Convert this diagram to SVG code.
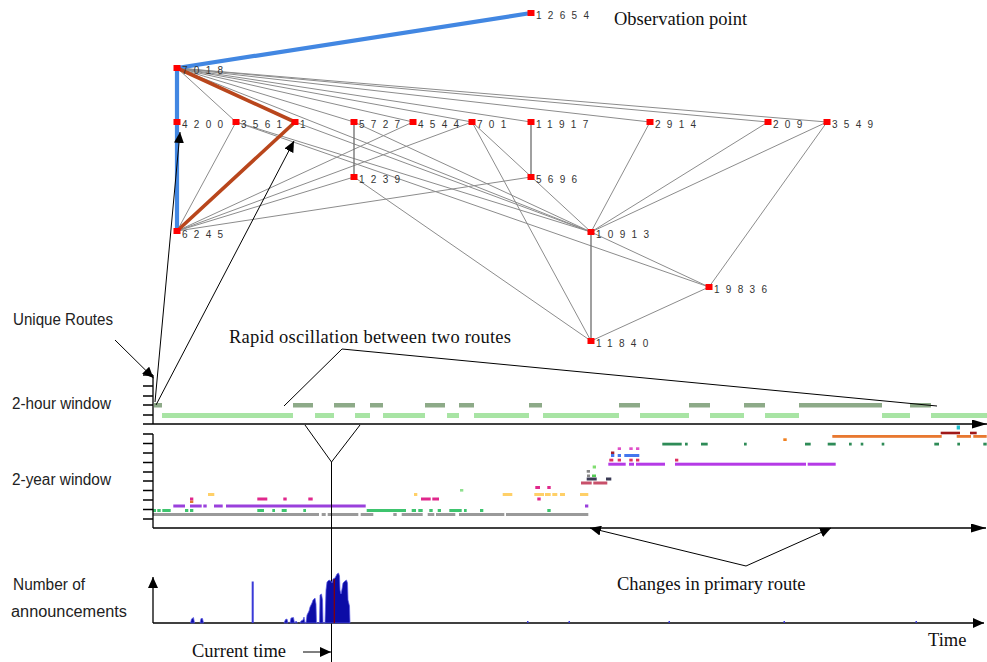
<svg xmlns="http://www.w3.org/2000/svg" width="987" height="662" viewBox="0 0 987 662">
<style>
.e{stroke:#8c8c8c;stroke-width:1;fill:none}
.ev{stroke:#6e6e6e;stroke-width:1.3;fill:none}
.nd{fill:#ff0000}
.lb{font-family:"Liberation Sans",Arial,sans-serif;font-size:10px;fill:#333;letter-spacing:6.3px}
.sans{font-family:"Liberation Sans",Arial,sans-serif;font-size:16px;fill:#222}
.serif{font-family:"Liberation Serif","Times New Roman",serif;font-size:18.5px;fill:#111}
.ann{stroke:#000;stroke-width:1;fill:none}
.ax{stroke:#000;stroke-width:1.3;fill:none}
.dg{fill:#8daa88}
.lg{fill:#a8e4a4}
</style>
<defs>
<marker id="ah" markerUnits="userSpaceOnUse" markerWidth="12" markerHeight="10" refX="11" refY="5" orient="auto"><path d="M0,0 L11,5 L0,10 Z" fill="#000"/></marker>
<marker id="axa" markerUnits="userSpaceOnUse" markerWidth="16" markerHeight="10" refX="15" refY="4.5" orient="auto"><path d="M0,0 L15,4.5 L0,9 Z" fill="#000"/></marker>
</defs>
<rect width="987" height="662" fill="#fff"/>

<g id="edges">
<path class="e" d="M177,68 L236,122 M177,68 L354,122 M177,68 L413,122 M177,68 L472,122 M177,68 L531,122 M177,68 L650,122 M177,68 L768,122 M177,68 L827,122 M177,68 L591,232
M236,122 L591,232 M236,122 L709,287 M295,122 L591,232 M354,122 L591,232
M472,122 L591,232 M472,122 L591,341 M354,177 L591,341
M177,231 L236,122 M177,231 L413,122 M177,231 L472,122 M177,231 L354,177 M177,231 L531,177
M650,122 L591,232 M768,122 L591,232 M827,122 L591,232 M827,122 L709,287 M591,232 L709,287 M591,341 L709,287"/>
<path class="ev" d="M354,122 V177 M531,122 V177 M591,232 V341"/>
<path d="M531,13 L177,68 L177,231" stroke="#4287e2" stroke-width="4.2" fill="none" stroke-linejoin="round"/>
<path d="M177,68 L295,122 L177,231" stroke="#b9461c" stroke-width="3.6" fill="none" stroke-linejoin="round"/>
</g>

<g id="n12654"><rect class="nd" x="527.5" y="10" width="7" height="6"/><text class="lb" x="536" y="19">12654</text></g>
<g id="n7018"><rect class="nd" x="173.5" y="65" width="7" height="6"/><text class="lb" x="182" y="74">7018</text></g>
<g id="n4200"><rect class="nd" x="173.5" y="119" width="7" height="6"/><text class="lb" x="182" y="128">4200</text></g>
<g id="n3561"><rect class="nd" x="232.5" y="119" width="7" height="6"/><text class="lb" x="241" y="128">3561</text></g>
<g id="n1"><rect class="nd" x="291.5" y="119" width="7" height="6"/><text class="lb" x="300" y="128">1</text></g>
<g id="n5727"><rect class="nd" x="350.5" y="119" width="7" height="6"/><text class="lb" x="359" y="128">5727</text></g>
<g id="n4544"><rect class="nd" x="409.5" y="119" width="7" height="6"/><text class="lb" x="418" y="128">4544</text></g>
<g id="n701"><rect class="nd" x="468.5" y="119" width="7" height="6"/><text class="lb" x="477" y="128">701</text></g>
<g id="n11917"><rect class="nd" x="527.5" y="119" width="7" height="6"/><text class="lb" x="536" y="128">11917</text></g>
<g id="n2914"><rect class="nd" x="646.5" y="119" width="7" height="6"/><text class="lb" x="655" y="128">2914</text></g>
<g id="n209"><rect class="nd" x="764.5" y="119" width="7" height="6"/><text class="lb" x="773" y="128">209</text></g>
<g id="n3549"><rect class="nd" x="823.5" y="119" width="7" height="6"/><text class="lb" x="832" y="128">3549</text></g>
<g id="n1239"><rect class="nd" x="350.5" y="174" width="7" height="6"/><text class="lb" x="359" y="183">1239</text></g>
<g id="n5696"><rect class="nd" x="527.5" y="174" width="7" height="6"/><text class="lb" x="536" y="183">5696</text></g>
<g id="n6245"><rect class="nd" x="173.5" y="228" width="7" height="6"/><text class="lb" x="182" y="238">6245</text></g>
<g id="n10913"><rect class="nd" x="587.5" y="229" width="7" height="6"/><text class="lb" x="596" y="238">10913</text></g>
<g id="n19836"><rect class="nd" x="705.5" y="284" width="7" height="6"/><text class="lb" x="714" y="293">19836</text></g>
<g id="n11840"><rect class="nd" x="587.5" y="338" width="7" height="6"/><text class="lb" x="596" y="347">11840</text></g>

<text class="serif" x="614" y="25">Observation point</text>

<g id="hour-bars">
<rect class="dg" x="154" y="403" width="8" height="4.5"/>
<rect class="dg" x="293" y="403" width="20" height="4.5"/>
<rect class="dg" x="334" y="403" width="21" height="4.5"/>
<rect class="dg" x="370" y="403" width="13" height="4.5"/>
<rect class="dg" x="425" y="403" width="20" height="4.5"/>
<rect class="dg" x="459" y="403" width="15" height="4.5"/>
<rect class="dg" x="529" y="403" width="13" height="4.5"/>
<rect class="dg" x="619" y="403" width="21" height="4.5"/>
<rect class="dg" x="689" y="403" width="21" height="4.5"/>
<rect class="dg" x="744" y="403" width="21" height="4.5"/>
<rect class="dg" x="799" y="403" width="83" height="4.5"/>
<rect class="dg" x="910" y="403" width="21" height="4.5"/>
<rect class="lg" x="162" y="413" width="131" height="5"/>
<rect class="lg" x="315" y="413" width="19" height="5"/>
<rect class="lg" x="355" y="413" width="15" height="5"/>
<rect class="lg" x="383" y="413" width="42" height="5"/>
<rect class="lg" x="447" y="413" width="12" height="5"/>
<rect class="lg" x="474" y="413" width="55" height="5"/>
<rect class="lg" x="543" y="413" width="76" height="5"/>
<rect class="lg" x="640" y="413" width="49" height="5"/>
<rect class="lg" x="710" y="413" width="34" height="5"/>
<rect class="lg" x="765" y="413" width="34" height="5"/>
<rect class="lg" x="882" y="413" width="28" height="5"/>
<rect class="lg" x="931" y="413" width="56" height="5"/>
</g>

<g id="year-bars">
<g fill="#9a9a9a">
<rect x="152.7" y="513" width="166.3" height="3"/><rect x="321.7" y="513" width="4" height="3"/><rect x="327.7" y="513" width="30.6" height="3"/><rect x="360.7" y="513" width="12.6" height="3"/><rect x="393.3" y="513" width="3.4" height="3"/><rect x="401.7" y="513" width="21" height="3"/><rect x="427.7" y="513" width="6.6" height="3"/><rect x="436" y="513" width="19.3" height="3"/><rect x="459" y="513" width="45.3" height="3"/><rect x="506" y="513" width="82.3" height="3"/>
</g>
<g fill="#3ec46e">
<rect x="152.7" y="509" width="3.3" height="3"/><rect x="157.3" y="509" width="3.4" height="3"/><rect x="162.3" y="509" width="8.4" height="3"/><rect x="185" y="509" width="3.3" height="3"/><rect x="190" y="509" width="3.3" height="3"/><rect x="257.3" y="509" width="6.7" height="3"/><rect x="272.3" y="509" width="2.7" height="3"/><rect x="281.7" y="509" width="5" height="3"/><rect x="303.3" y="509" width="2.7" height="3"/><rect x="366.7" y="509" width="39.3" height="3"/><rect x="411.7" y="509" width="4.3" height="3"/><rect x="418.3" y="509" width="4.4" height="3"/><rect x="429.3" y="509" width="3.4" height="3"/><rect x="437.7" y="509" width="3.3" height="3"/><rect x="449.3" y="509" width="12.4" height="3"/><rect x="464" y="509" width="2.7" height="3"/><rect x="480" y="509" width="3.3" height="3"/><rect x="547.3" y="509" width="3.4" height="3"/>
</g>
<g fill="#9a40dc">
<rect x="173.3" y="504.5" width="11.7" height="3"/><rect x="190" y="504.5" width="11.7" height="3"/><rect x="203.3" y="504.5" width="3.4" height="3"/><rect x="214" y="504.5" width="8.7" height="3"/><rect x="226" y="504.5" width="139.7" height="3"/><rect x="585" y="504.5" width="3.3" height="3"/>
</g>
<g fill="#e0288c">
<rect x="190" y="497.5" width="3.3" height="3"/><rect x="257.3" y="497.5" width="10" height="3"/><rect x="283.3" y="497.5" width="3.4" height="3"/><rect x="308.3" y="497.5" width="4.4" height="3"/><rect x="421" y="497.5" width="9.7" height="3"/><rect x="432.3" y="497.5" width="6.7" height="3"/><rect x="537.3" y="497.5" width="3.4" height="3"/>
<rect x="535.3" y="486" width="4.7" height="3"/><rect x="547.3" y="486" width="3.4" height="3"/>
</g>
<rect x="190" y="500.5" width="3.3" height="2.5" fill="#e07a30"/>
<g fill="#ffd068">
<rect x="208" y="493" width="6.3" height="3"/><rect x="414" y="493" width="3.3" height="3"/><rect x="502.7" y="493" width="9.6" height="3"/><rect x="534.3" y="493" width="9.7" height="3"/><rect x="545" y="493" width="5.7" height="3"/><rect x="552.3" y="493" width="5" height="3"/><rect x="560" y="493" width="5" height="3"/><rect x="580" y="493" width="8.3" height="3"/>
</g>
<rect x="460" y="489" width="3.3" height="2.6" fill="#8fe08f"/>
<g fill="#c8506a"><rect x="581" y="481.5" width="10.7" height="3"/><rect x="593.3" y="481.5" width="14" height="3"/></g>
<g fill="#3a3a55"><rect x="586.7" y="477.5" width="10" height="3"/><rect x="606" y="477.5" width="5.3" height="3"/></g>
<rect x="587" y="474.5" width="3" height="2.5" fill="#888"/>
<rect x="592" y="474.5" width="4" height="2.5" fill="#55cc55"/>
<rect x="586.7" y="470" width="3.3" height="2.7" fill="#888"/>
<rect x="592.7" y="465.5" width="3.3" height="3" fill="#80dd70"/>
<g fill="#b53ae6">
<rect x="608.3" y="462.7" width="17.4" height="3"/><rect x="629" y="462.7" width="5" height="3"/><rect x="636" y="462.7" width="29" height="3"/><rect x="675" y="462.7" width="131" height="3"/><rect x="807.7" y="462.7" width="28" height="3"/>
</g>
<g fill="#e03060">
<rect x="609.3" y="458.7" width="4" height="2.8"/><rect x="617.7" y="458.7" width="3.3" height="2.8"/><rect x="629.3" y="458.7" width="3.4" height="2.8"/><rect x="636" y="458.7" width="3.3" height="2.8"/><rect x="675" y="458.7" width="3.3" height="2.8"/>
</g>
<g fill="#4477ee"><rect x="611" y="454" width="3.3" height="3"/><rect x="617.7" y="454" width="3.3" height="3"/><rect x="624.3" y="454" width="15" height="3"/></g>
<rect x="611" y="451.5" width="3.3" height="2.5" fill="#a02030"/>
<g fill="#e050c8"><rect x="617.7" y="447.3" width="3.3" height="2.7"/><rect x="629.3" y="447.3" width="3.4" height="2.7"/><rect x="636" y="447.3" width="3.3" height="2.7"/></g>
<g fill="#2e8b57">
<rect x="662.3" y="442.7" width="19.4" height="2.8"/><rect x="685" y="442.7" width="2.7" height="2.8"/><rect x="701" y="442.7" width="6.7" height="2.8"/><rect x="744" y="442.7" width="2.7" height="2.8"/><rect x="805" y="442.7" width="5.7" height="2.8"/><rect x="827.7" y="442.7" width="8" height="2.8"/><rect x="849" y="442.7" width="2.7" height="2.8"/><rect x="860.7" y="442.7" width="2.6" height="2.8"/><rect x="881.7" y="442.7" width="2.6" height="2.8"/><rect x="934.3" y="442.7" width="4.7" height="2.8"/><rect x="957.3" y="442.7" width="2.7" height="2.8"/><rect x="983.3" y="442.7" width="3.4" height="2.8"/>
</g>
<rect x="783.3" y="438.3" width="3.4" height="2.7" fill="#f08020"/>
<g fill="#e87830"><rect x="832.3" y="435" width="109.4" height="2.8"/><rect x="956.7" y="435" width="14.3" height="2.8"/><rect x="973.3" y="435" width="13.4" height="2.8"/></g>
<g fill="#a01818"><rect x="940.7" y="431.7" width="19.3" height="2.6"/><rect x="970" y="431.7" width="6.7" height="2.6"/></g>
<rect x="956.7" y="425.5" width="3.3" height="4" fill="#20c0d0"/>
</g>

<g id="axes">
<path class="ax" d="M153,375 V424 M143,375 H153 M143,386 H153 M143,396 H153 M143,405 H153 M143,415 H153"/>
<line class="ax" x1="143" y1="424" x2="987" y2="424" marker-end="url(#axa)"/>
<path class="ax" d="M153,434 V528 M143,434 H153 M143,443.5 H153 M143,453 H153 M143,462.5 H153 M143,472 H153 M143,481 H153 M143,490.5 H153 M143,500 H153 M143,509.5 H153 M143,519 H153"/>
<line class="ax" x1="153" y1="528" x2="986" y2="528" marker-end="url(#axa)"/>
<line class="ax" x1="153" y1="623" x2="153" y2="577" marker-end="url(#ah)"/>
<line class="ax" x1="153" y1="623" x2="984" y2="623" marker-end="url(#ah)"/>
</g>

<g id="annotations">
<line class="ann" x1="115" y1="340" x2="153.5" y2="378" marker-end="url(#ah)"/>
<line class="ann" x1="155" y1="402" x2="180" y2="132" marker-end="url(#ah)"/>
<line class="ann" x1="156" y1="405" x2="294" y2="141" marker-end="url(#ah)"/>
<polyline class="ann" points="284,406 342,349 937,406"/>
<polyline class="ann" points="305,425 331.5,462 360,425"/>
<line class="ann" x1="331.5" y1="462" x2="331.5" y2="662"/>
<line class="ann" x1="303" y1="652" x2="331" y2="652" marker-end="url(#ah)"/>
<line class="ann" x1="746" y1="566" x2="590" y2="528" marker-end="url(#ah)"/>
<line class="ann" x1="746" y1="566" x2="831" y2="528" marker-end="url(#ah)"/>
</g>

<g id="histogram">
<g fill="#0c0ca6" stroke="#5a5ae6" stroke-width="0.7">
<path d="M190.5,623 L191.5,619 L193.5,617.5 L194.5,623 Z"/>
<path d="M200,623 L201,618.5 L202.5,618.5 L203.5,623 Z"/>
<path d="M284,623 L285.5,619.5 L287,619 L288,623 Z"/>
<path d="M290,623 L291,618 L293.5,617.5 L294.5,623 Z"/>
<path d="M295,623 L296,621 L297.5,623 Z"/>
<path d="M300,623 L301,621 L303,620 L304,617 L305,623 L306,623 L307,615 L309,611 L310,607 L312,603 L313,600 L315,598 L316,604 L316.5,623 L319.5,623 L320,595 L321.5,594 L322.5,600 L323,623 L325,623 L326,590 L327,582 L329,580 L331,581 L332,583 L333,579 L335,578 L336,576 L337,574 L338.5,573 L339.5,576 L340,590 L341,594 L342,589 L343,583 L345,581 L346.5,580 L347.5,583 L348,600 L349.5,606 L350,623 Z"/>
</g>
<rect x="251.7" y="581.5" width="2" height="41.5" fill="#3a3ad8"/>
<line x1="334.3" y1="579" x2="334.3" y2="623" stroke="#8b0000" stroke-width="1.2"/>
<g fill="#3a3ad8"><rect x="527" y="621" width="1.5" height="2"/><rect x="568.5" y="621" width="1.5" height="2"/><rect x="668.5" y="621" width="1.5" height="2"/><rect x="783.5" y="621" width="1.5" height="2"/><rect x="915.5" y="621" width="1.5" height="2"/></g>
</g>

<g id="labels">
<text class="sans" x="13" y="325" textLength="100" lengthAdjust="spacingAndGlyphs">Unique Routes</text>
<text class="sans" x="12" y="409" textLength="99" lengthAdjust="spacingAndGlyphs">2-hour window</text>
<text class="sans" x="12" y="485" textLength="99" lengthAdjust="spacingAndGlyphs">2-year window</text>
<text class="sans" x="13" y="590" textLength="72" lengthAdjust="spacingAndGlyphs">Number of</text>
<text class="sans" x="11" y="617" textLength="116" lengthAdjust="spacingAndGlyphs">announcements</text>
<text class="serif" x="229" y="343" textLength="282">Rapid oscillation between two routes</text>
<text class="serif" x="617" y="590">Changes in primary route</text>
<text class="serif" x="192" y="657">Current time</text>
<text class="serif" x="928" y="646">Time</text>
</g>
</svg>
